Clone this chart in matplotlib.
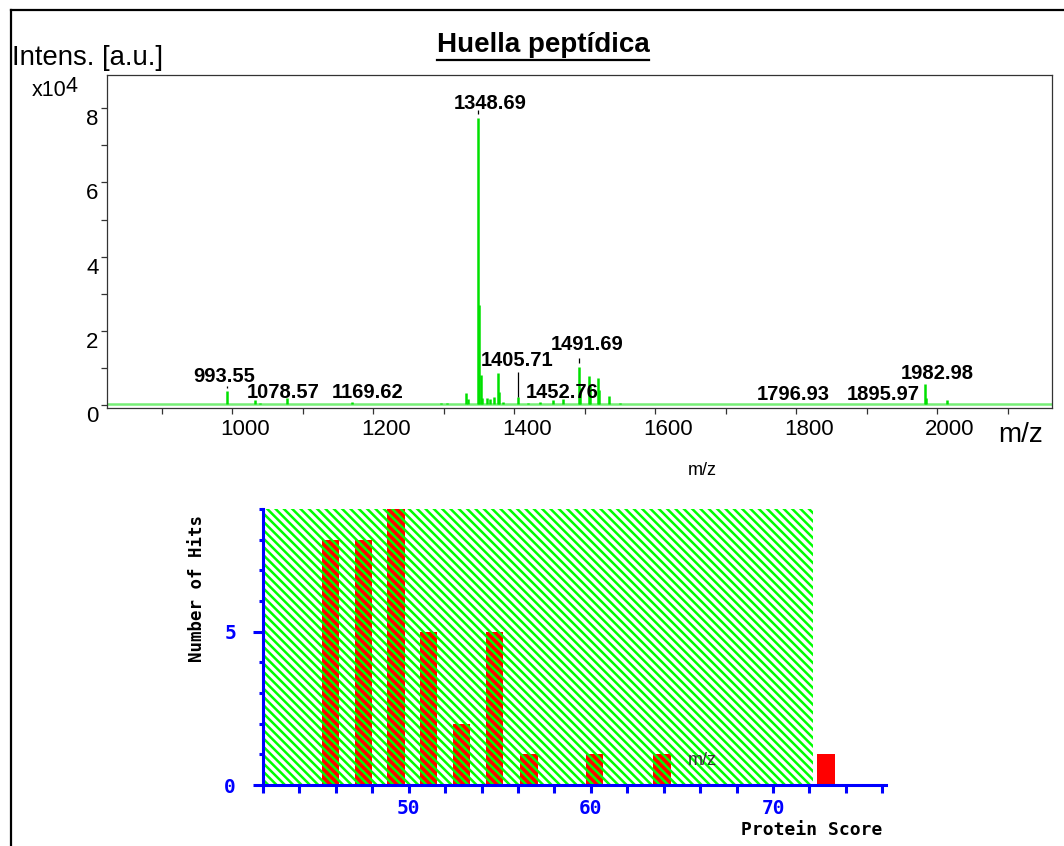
import matplotlib
matplotlib.use("Agg")
import matplotlib.pyplot as plt
import matplotlib.transforms as mtransforms
from matplotlib.lines import Line2D
from matplotlib.patches import Rectangle
import numpy as np

# ---- spectrum (m/z, intensity in x10^4) ----
peak_mz = [973, 993.55, 1020, 1032, 1040, 1065, 1078.57, 1100, 1130, 1169.62,
           1200, 1245, 1280, 1296, 1305, 1332, 1335, 1348.69, 1350.7, 1352.7,
           1355, 1362, 1366, 1371, 1377, 1379, 1384, 1405.71, 1420, 1437,
           1455, 1470, 1491.69, 1493.7, 1506, 1508, 1519, 1521, 1535, 1550,
           1600, 1700, 1720, 1797, 1850, 1895.97, 1982.98, 1985, 2014, 2043]
peak_int = [0.03, 0.38, 0.04, 0.14, 0.05, 0.04, 0.18, 0.03, 0.03, 0.07,
            0.03, 0.03, 0.03, 0.05, 0.05, 0.32, 0.15, 7.74, 2.7, 0.8,
            0.2, 0.18, 0.15, 0.22, 0.86, 0.35, 0.08, 0.22, 0.06, 0.08,
            0.13, 0.15, 1.02, 0.45, 0.78, 0.5, 0.73, 0.4, 0.24, 0.05,
            0.02, 0.03, 0.03, 0.04, 0.02, 0.03, 0.57, 0.2, 0.13, 0.04]
baseline_level = 0.02

# annotated peaks and where their labels sit
label_mz = [993.55, 1078.57, 1169.62, 1348.69, 1405.71, 1452.76, 1491.69, 1796.93, 1895.97, 1982.98]
label_x = [988.7, 1072.3, 1192.9, 1366.0, 1404.3, 1468.1, 1503.5, 1795.7, 1923.4, 2000.0]
label_y = [0.78, 0.35, 0.35, 8.14, 1.21, 0.35, 1.64, 0.27, 0.27, 0.86]

# small black marker lines over some labelled peaks
marker_mz = [993.55, 1348.69, 1405.71, 1491.69]
marker_lo = [0.45, 7.84, 0.22, 1.13]
marker_hi = [0.52, 7.95, 0.89, 1.27]

# ---- score histogram ----
score_centers = [45.7, 47.5, 49.3, 51.1, 52.9, 54.7, 56.6, 60.2, 63.9, 72.9]
score_hits = [8, 8, 9, 5, 2, 5, 1, 1, 1, 1]
threshold = 72.2

GREEN = "#00ff00"
RED = "#ff0000"
BLUE = "#0000ff"

plt.rcParams["font.family"] = ["Liberation Sans", "DejaVu Sans"]
plt.rcParams["hatch.linewidth"] = 1.8

fig = plt.figure(figsize=(10.64, 8.46), dpi=100)
W, H = 1064.0, 846.0


def fx(px):
    return px / W


def fy(py):
    return 1 - py / H


# outer frame (top and left edges visible)
fig.add_artist(Line2D([fx(10.5), 1.01], [fy(10.5), fy(10.5)], color="black", lw=1.6,
                      transform=fig.transFigure))
fig.add_artist(Line2D([fx(10.5), fx(10.5)], [fy(10.5), -0.01], color="black", lw=1.6,
                      transform=fig.transFigure))

# ================= top: spectrum =================
ax = fig.add_axes([fx(107), fy(408), fx(1052) - fx(107), fy(75) - fy(408)])
ax.axhline(baseline_level, color="#77ee77", lw=1.8, zorder=1)
ax.vlines(peak_mz, baseline_level, peak_int, color="#00e000", lw=1.8, zorder=2)
ax.vlines(marker_mz, marker_lo, marker_hi, color="black", lw=0.9, zorder=3)
for x, y, m in zip(label_x, label_y, label_mz):
    ax.text(x, y, f"{m:.2f}", ha="center", va="center", fontsize=14.5,
            fontweight="bold", color="black", zorder=4)

ax.set_xlim(822.7, 2163)
ax.set_ylim(-0.081, 8.895)
ax.set_xticks(np.arange(1000, 2001, 200))
ax.set_xticks(np.arange(900, 2101, 200), minor=True)
ax.set_yticks(np.arange(0, 9, 2))
ax.set_yticks(np.arange(1, 8, 2), minor=True)
ax.tick_params(which="both", direction="out", length=4, width=0.9, color="#333333",
               labelsize=16)
ax.tick_params(axis="x", pad=4)
ax.tick_params(axis="y", pad=2)
for s in ax.spines.values():
    s.set_color("#333333")
    s.set_linewidth(0.9)

xshift = mtransforms.ScaledTranslation(13 / 100, 0, fig.dpi_scale_trans)
for lab in ax.get_xticklabels():
    lab.set_transform(lab.get_transform() + xshift)
yshift = mtransforms.ScaledTranslation(0, -9 / 100, fig.dpi_scale_trans)
for lab in ax.get_yticklabels():
    lab.set_transform(lab.get_transform() + yshift)

title = fig.text(fx(543), fy(45), "Huella peptídica", ha="center", va="center",
                 fontsize=20, fontweight="bold")
fig.text(fx(12), fy(58), "Intens. [a.u.]", ha="left", va="center", fontsize=19.8)
fig.text(fx(32), fy(91), "x10", ha="left", va="center", fontsize=15.5)
fig.text(fx(66), fy(86), "4", ha="left", va="center", fontsize=15.5)
fig.text(fx(1021), fy(435), "m/z", ha="center", va="center", fontsize=20)
fig.text(fx(702), fy(470), "m/z", ha="center", va="center", fontsize=13)

# ================= bottom: score histogram =================
ax2 = fig.add_axes([fx(263), fy(785), fx(886) - fx(263), fy(509) - fy(785)])
ax2.set_xlim(42, 76.2)
ax2.set_ylim(0, 9)
ax2.add_patch(Rectangle((42, 0), threshold - 42, 9, facecolor="white", edgecolor=GREEN,
                        hatch="\\\\\\\\", lw=0, zorder=1))
centers = np.array(score_centers)
hits = np.array(score_hits)
below = centers < threshold
ax2.bar(centers[below], hits[below], width=0.95, facecolor=RED, edgecolor=GREEN,
        hatch="\\\\\\\\", lw=0, zorder=2)
ax2.bar(centers[~below], hits[~below], width=0.95, facecolor=RED, lw=0, zorder=2)

ax2.text(66.1, 0.81, "m/z", ha="center", va="center", fontsize=13, color="#333333", zorder=3)

for side in ("top", "right"):
    ax2.spines[side].set_visible(False)
for side in ("left", "bottom"):
    ax2.spines[side].set_color(BLUE)
    ax2.spines[side].set_linewidth(2.2)

xt = np.arange(42, 77, 2)
ax2.set_xticks(xt)
ax2.set_xticklabels([str(v) if v % 10 == 0 else "" for v in xt])
ax2.set_yticks([0, 5])
ax2.set_yticks(np.arange(1, 10), minor=True)
mono = ["DejaVu Sans Mono"]
ax2.tick_params(axis="x", direction="out", length=6, width=2.2, color=BLUE, pad=4,
                labelcolor=BLUE, labelsize=14)
ax2.tick_params(axis="y", which="major", direction="out", length=7.5, width=2.2,
                color=BLUE, pad=12, labelcolor=BLUE, labelsize=14)
ax2.tick_params(axis="y", which="minor", direction="out", length=3, width=2.2, color=BLUE)
for lab in ax2.get_xticklabels() + ax2.get_yticklabels():
    lab.set_family(mono)
    lab.set_fontweight("bold")

fig.text(fx(197), fy(588), "Number of Hits", rotation=90, ha="center", va="center",
         fontsize=12.5, fontweight="bold", family=mono)
fig.text(fx(812), fy(830), "Protein Score", ha="center", va="center",
         fontsize=13, fontweight="bold", family=mono)

# underline the title
fig.canvas.draw()
bb = title.get_window_extent()
uy = bb.y0 - 2
fig.add_artist(Line2D([bb.x0 / W, bb.x1 / W], [uy / H, uy / H], color="black", lw=1.6,
                      transform=fig.transFigure))

fig.savefig("out.png", dpi=100)
